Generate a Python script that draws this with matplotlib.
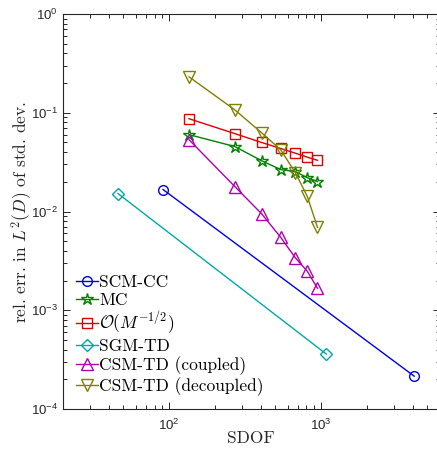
import math
import matplotlib
matplotlib.use("Agg")
import matplotlib.pyplot as plt
from matplotlib.font_manager import FontProperties
from matplotlib.ticker import LogLocator, FuncFormatter, NullFormatter

# Daten
sdof_mc = [135, 270, 405, 540, 675, 810, 945]
err_mc = [0.060, 0.0455, 0.0327, 0.0266, 0.0254, 0.0220, 0.0201]
err_rate = [0.087, 0.0615, 0.050, 0.0435, 0.039, 0.0355, 0.033]
err_coupled = [0.0533, 0.0179, 0.0095, 0.0055, 0.0034, 0.00248, 0.00167]
err_decoupled = [0.231, 0.107, 0.0628, 0.0423, 0.0248, 0.0142, 0.0069]

sdof_scm = [91, 4090]
err_scm = [0.0167, 0.000215]
sdof_sgm = [46, 1080]
err_sgm = [0.0152, 0.00036]

plt.rcParams['mathtext.fontset'] = 'custom'
plt.rcParams['mathtext.rm'] = 'Liberation Sans'
plt.rcParams['mathtext.it'] = 'Liberation Sans:italic'
plt.rcParams['font.family'] = 'Liberation Sans'

axcol = '#262626'
serif = FontProperties(family='cmr10', size=12.5, math_fontfamily='cm')

fig = plt.figure(figsize=(4.37, 4.49), dpi=100)
ax = fig.add_axes([63 / 437, 40 / 449, 376.5 / 437, 395 / 449])
ax.set_xscale('log')
ax.set_yscale('log')

ms = 7
ax.plot(sdof_scm, err_scm, '-o', color='#0000e0', mfc='none', ms=ms, lw=1, label='SCM-CC')
ax.plot(sdof_mc, err_mc, '-*', color='#008000', mfc='none', ms=9, lw=1, label='MC')
ax.plot(sdof_mc, err_rate, '-s', color='#e00000', mfc='none', ms=ms, lw=1, label=r'$\mathcal{O}(M^{-1/2})$')
ax.plot(sdof_sgm, err_sgm, '-D', color='#00a8a8', mfc='none', ms=6, lw=1, label='SGM-TD')
ax.plot(sdof_mc, err_coupled, '-^', color='#b000b0', mfc='none', ms=8, lw=1, label='CSM-TD (coupled)')
ax.plot(sdof_mc, err_decoupled, '-v', color='#808000', mfc='none', ms=8, lw=1, label='CSM-TD (decoupled)')

ax.set_xlim(20, 6000)
ax.set_ylim(1e-4, 1)

ax.xaxis.set_major_locator(LogLocator(base=10, numticks=10))
ax.xaxis.set_minor_locator(LogLocator(base=10, subs=range(2, 10), numticks=20))
ax.yaxis.set_major_locator(LogLocator(base=10, numticks=10))
ax.yaxis.set_minor_locator(LogLocator(base=10, subs=range(2, 10), numticks=20))
fmt = FuncFormatter(lambda v, p: r'$10^{%d}$' % round(math.log10(v)))
ax.xaxis.set_major_formatter(fmt)
ax.yaxis.set_major_formatter(fmt)
ax.xaxis.set_minor_formatter(NullFormatter())
ax.yaxis.set_minor_formatter(NullFormatter())

ax.tick_params(which='both', direction='in', top=True, right=True, colors=axcol,
               labelsize=9.5, width=0.7)
ax.tick_params(which='major', length=5)
ax.tick_params(which='minor', length=3)
ax.tick_params(axis='x', pad=6)
for s in ax.spines.values():
    s.set_color(axcol)
    s.set_linewidth(0.8)

ax.set_xlabel('SDOF', fontproperties=serif, color=axcol, labelpad=-1.5)
ax.set_ylabel(r'rel. err. in $L^2(D)$ of std. dev.', fontproperties=serif, color=axcol, labelpad=-2)

ax.legend(loc='lower left', bbox_to_anchor=(0.0, 0.0), frameon=False, prop=serif,
          handlelength=1.25, handletextpad=0.1, labelspacing=0.12, borderaxespad=0.35)

fig.savefig('out.png', dpi=100)
